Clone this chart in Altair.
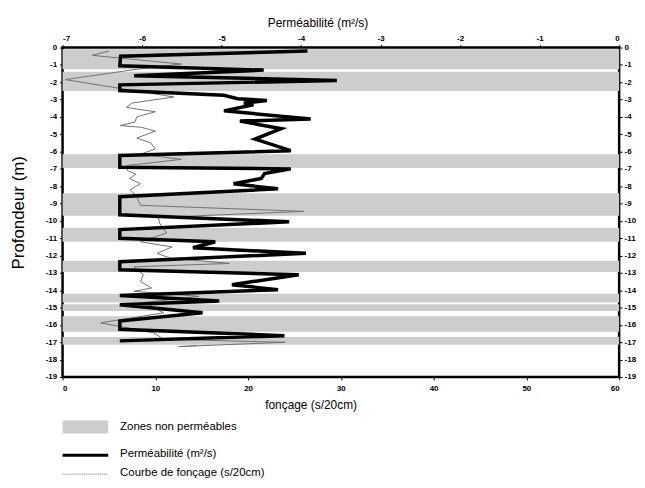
import altair as alt
import pandas as pd

# --- data ---
# Permeability curve (log10 m2/s, top axis) vs depth (m)
perm_depth = [-0.2, -0.5, -1.05, -1.3, -1.62, -1.9, -2.15, -2.48, -2.75, -2.95, -3.05,
              -3.2, -3.3, -3.65, -4.12, -4.24, -4.68, -5.28, -5.95, -6.22, -6.9, -7.0,
              -7.27, -7.55, -7.86, -8.15, -8.6, -9.65, -10.05, -10.5, -11.0, -11.2,
              -11.55, -11.87, -12.35, -12.82, -13.1, -13.68, -13.97, -14.3, -14.62,
              -14.83, -15.3, -15.78, -16.25, -16.62, -16.92]
perm_val = [-3.92, -6.27, -6.28, -4.47, -6.1, -3.55, -6.28, -6.28, -4.97, -4.8, -4.43,
            -4.72, -4.6, -4.97, -3.88, -4.77, -4.25, -4.58, -4.13, -6.28, -6.28, -4.13,
            -4.46, -4.5, -4.85, -4.29, -6.28, -6.28, -4.15, -6.28, -6.28, -5.08,
            -5.36, -3.94, -6.28, -6.28, -4.03, -4.87, -4.29, -6.28, -5.03,
            -6.28, -5.24, -6.28, -6.28, -4.21, -6.28]

# Penetration curve (s/20cm, bottom axis) vs depth (m)
fon_depth = [-0.2, -0.45, -0.95, -1.25, -1.85, -2.85, -3.2, -3.45, -3.55, -3.7, -4.0,
             -4.3, -4.5, -4.6, -4.82, -5.22, -5.5, -5.85, -6.15, -6.45, -6.8, -7.1,
             -7.3, -7.55, -7.85, -8.2, -8.6, -9.1, -9.45, -9.8, -10.15, -10.7, -11.2,
             -11.5, -11.87, -12.15, -12.45, -12.65, -13.1, -13.5, -13.87, -14.06,
             -14.35, -14.7, -15.0, -15.3, -15.88, -16.45, -16.83, -17.0, -17.25, -17.2]
fon_val = [5.0, 3.2, 12.8, 8.0, 0.3, 12.0, 7.5, 6.9, 8.0, 10.0, 8.0,
           7.8, 6.2, 8.5, 10.0, 8.0, 9.5, 10.0, 8.4, 12.8, 7.0, 7.0,
           7.9, 7.2, 8.4, 7.3, 8.0, 8.4, 26.0, 10.3, 10.5, 11.2, 8.4,
           11.8, 10.2, 11.6, 18.0, 7.7, 8.7, 8.4, 9.6, 7.7,
           14.7, 9.0, 9.8, 10.9, 4.1, 9.8, 10.9, 24.0, 12.5, 14.5]

# Non-permeable zones (depth top, depth bottom)
band_top = [-0.1, -1.4, -6.15, -8.4, -10.4, -12.3, -14.2, -14.8, -15.5, -16.7]
band_bottom = [-1.25, -2.5, -6.95, -9.7, -11.2, -12.95, -14.7, -15.2, -16.4, -17.15]

depth_ticks = list(range(-19, 1))
perm_ticks = [-7, -6, -5, -4, -3, -2, -1, 0]
fon_ticks = [0, 10, 20, 30, 40, 50, 60]

title_top = "Perméabilité (m²/s)"
title_bottom = "fonçage (s/20cm)"
title_left = "Profondeur (m)"
legend_labels = ["Zones non perméables", "Perméabilité (m²/s)", "Courbe de fonçage (s/20cm)"]

FONT = "Liberation Sans"
W, H = 561, 332

perm_df = pd.DataFrame({"depth": perm_depth, "perm": perm_val, "i": range(len(perm_val))})
fon_df = pd.DataFrame({"depth": fon_depth, "fon": fon_val, "i": range(len(fon_val))})
band_df = pd.DataFrame({"top": band_top, "bottom": band_bottom})

yscale = alt.Scale(domain=[-19, 0], nice=False, zero=False)

axis_common = dict(labelFont=FONT, labelFontSize=8, labelFontWeight="bold", labelColor="black",
                   tickColor="black", tickSize=3, domain=False, grid=False,
                   titleFont=FONT, titleFontWeight="normal", titleColor="black")

left_axis = alt.Axis(orient="left", values=depth_ticks, labelExpr="'' + datum.value",
                     labelPadding=3, title=title_left, titleFontSize=17,
                     titleX=-44, titleY=H / 2, titleAngle=-90, titleBaseline="middle",
                     **axis_common)
right_axis = alt.Axis(orient="right", values=depth_ticks, labelExpr="'' + datum.value",
                      labelPadding=2, title=None, **axis_common)
top_axis = alt.Axis(orient="top", values=perm_ticks, labelExpr="'' + datum.value",
                    labelPadding=2, title=title_top, titleFontSize=12,
                    titleX=257, titleY=-25, titleBaseline="middle", titleAnchor="middle",
                    **axis_common)
bottom_axis = alt.Axis(orient="bottom", values=fon_ticks, labelPadding=5,
                       title=title_bottom, titleFontSize=12,
                       titleX=250, titleY=28, titleBaseline="middle", titleAnchor="middle",
                       **axis_common)

bands = alt.Chart(band_df).mark_rect(color="#cdcdcd").encode(
    y=alt.Y("top:Q", scale=yscale, axis=left_axis),
    y2="bottom:Q",
)

fon_line = alt.Chart(fon_df).mark_line(color="#707070", strokeWidth=1).encode(
    x=alt.X("fon:Q", scale=alt.Scale(domain=[0, 60], nice=False), axis=bottom_axis),
    y=alt.Y("depth:Q", scale=yscale, axis=right_axis),
    order="i:Q",
)

perm_line = alt.Chart(perm_df).mark_line(color="black", strokeWidth=3.5, strokeJoin="miter").encode(
    x=alt.X("perm:Q", scale=alt.Scale(domain=[-7, 0], nice=False), axis=top_axis),
    y=alt.Y("depth:Q", scale=yscale, axis=None),
    order="i:Q",
)

one = pd.DataFrame({"a": [0]})
leg_swatch = alt.Chart(one).mark_rect(color="#cdcdcd").encode(
    x=alt.value(0), x2=alt.value(46), y=alt.value(376), y2=alt.value(389))
leg_thick = alt.Chart(one).mark_rule(color="black", strokeWidth=3).encode(
    x=alt.value(0), x2=alt.value(46), y=alt.value(411))
leg_thin = alt.Chart(one).mark_rule(color="#707070", strokeWidth=1, strokeDash=[1, 1]).encode(
    x=alt.value(0), x2=alt.value(46), y=alt.value(430))
leg_text = [
    alt.Chart(one).mark_text(align="left", baseline="middle", font=FONT, fontSize=11.5,
                             color="black").encode(
        x=alt.value(58), y=alt.value(yy), text=alt.value(lbl))
    for lbl, yy in zip(legend_labels, [382, 410, 429])
]

chart = alt.layer(
    bands, fon_line, perm_line, leg_swatch, leg_thick, leg_thin, *leg_text
).resolve_scale(x="independent").resolve_axis(x="independent", y="independent").properties(
    width=W, height=H,
    autosize=alt.AutoSizeParams(type="none"),
    padding={"left": 55, "top": 38, "right": 18, "bottom": 102},
).configure_view(stroke="black", strokeWidth=2.5)

chart.save("out.html", embed_options={"renderer": "svg", "actions": False})
